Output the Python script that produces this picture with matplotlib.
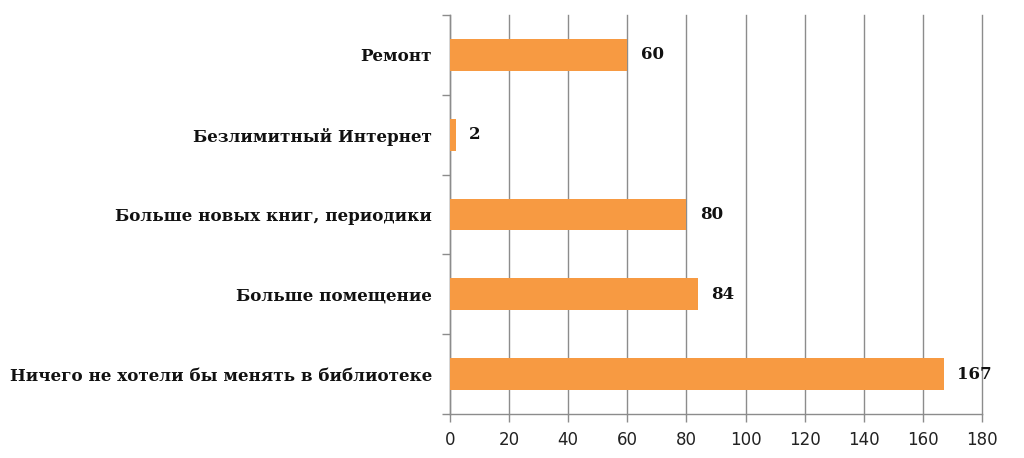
import matplotlib
matplotlib.use("Agg")
import matplotlib.pyplot as plt

categories = [
    "Ничего не хотели бы менять в библиотеке",
    "Больше помещение",
    "Больше новых книг, периодики",
    "Безлимитный Интернет",
    "Ремонт",
]
values = [167, 84, 80, 2, 60]
x_ticks = list(range(0, 181, 20))

bar_color = "#F79A42"
grid_color = "#8C8C8C"

fig = plt.figure(figsize=(10.24, 4.58), dpi=100)
ax = fig.add_axes([450 / 1024, 1 - 414 / 458, 532 / 1024, 399 / 458])

pos = list(range(len(categories)))
ax.barh(pos, values, height=0.4, color=bar_color, zorder=3)

ax.set_xlim(0, 180)
ax.set_ylim(-0.5, len(categories) - 0.5)
ax.set_xticks(x_ticks)
ax.set_xticklabels([str(t) for t in x_ticks], fontsize=12, family="DejaVu Sans", color="#222222")
ax.xaxis.grid(True, color=grid_color, linewidth=1.0, zorder=0)
for gl in ax.get_xgridlines():
    gl.set_clip_on(False)

# category labels at the band centres, tick marks at band boundaries
ax.set_yticks([p - 0.5 for p in pos] + [len(categories) - 0.5])
ax.set_yticklabels([])
ax.set_yticks(pos, minor=True)
ax.set_yticklabels(categories, minor=True, fontsize=12.1, fontweight="bold",
                   family="DejaVu Serif", color="#111111")
ax.tick_params(axis="y", which="minor", length=0, pad=13)
ax.tick_params(axis="y", which="major", length=6, color=grid_color, width=1.0)
ax.tick_params(axis="x", length=6, color=grid_color, width=1.0, pad=6)

for s in ["top", "right"]:
    ax.spines[s].set_visible(False)
for s in ["left", "bottom"]:
    ax.spines[s].set_color(grid_color)
    ax.spines[s].set_linewidth(1.0)

for p, v in zip(pos, values):
    ax.text(v + 4.5, p, str(v), va="center", ha="left", fontsize=12,
            fontweight="bold", family="DejaVu Serif", color="#111111")

fig.savefig("out.png", dpi=100, facecolor="white")
